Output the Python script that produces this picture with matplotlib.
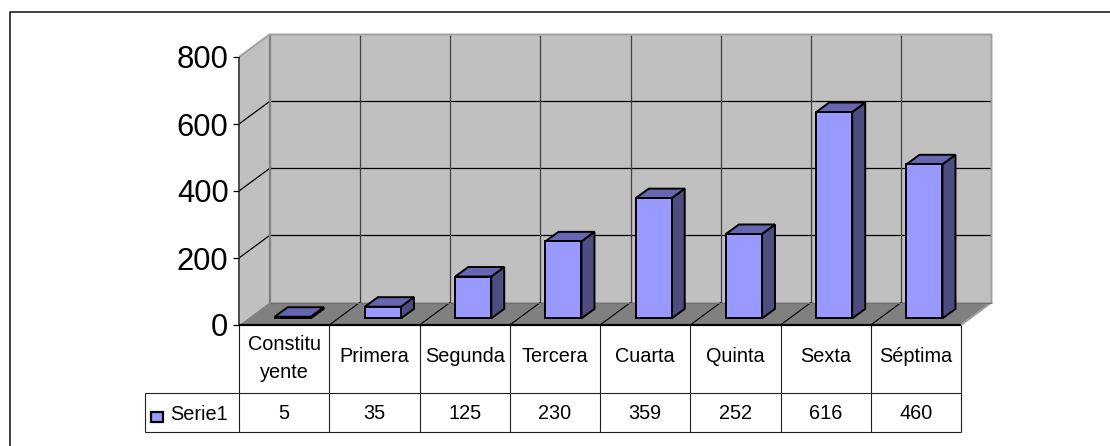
import matplotlib
matplotlib.use("Agg")
import matplotlib.pyplot as plt
from matplotlib.patches import Polygon
from matplotlib.lines import Line2D

plt.rcParams['font.family'] = ['Liberation Sans', 'DejaVu Sans']

categories = ["Constitu\nyente", "Primera", "Segunda", "Tercera", "Cuarta", "Quinta", "Sexta", "Séptima"]
values = [5, 35, 125, 230, 359, 252, 616, 460]
series_name = "Serie1"
y_ticks = [0, 200, 400, 600, 800]

W, H = 1110, 446
fig = plt.figure(figsize=(W / 100, H / 100), dpi=100, facecolor="white")
# Front plane of the 3D box, from pixel measurements
L, R, T, B = 239, 961, 57, 325
ax = fig.add_axes([L / W, 1 - B / H, (R - L) / W, (B - T) / H])
ax.set_xlim(0, len(categories))
ax.set_ylim(0, 800)
ax.axis("off")

PX = (R - L) / len(categories)     # pixels per category
PY = (B - T) / 800                 # pixels per value unit
DX, DY = 30.5 / PX, 22.5 / PY      # full depth of the box
BAR_W = 36 / PX
BDX, BDY = 13 / PX, 9.5 / PY       # depth of a bar
OFFX, OFFY = 8.6 / PX, 6.6 / PY    # bar front plane inside the box
n = len(categories)

def poly(pts, fc, ec="none", lw=0, z=1):
    ax.add_patch(Polygon(pts, closed=True, fc=fc, ec=ec, lw=lw, zorder=z,
                         clip_on=False, joinstyle="miter"))

def line(xs, ys, c="black", lw=0.75, z=2):
    ax.add_line(Line2D(xs, ys, color=c, lw=lw, zorder=z, clip_on=False,
                       solid_capstyle="butt"))

# walls and floor
poly([(DX, DY), (n + DX, DY), (n + DX, 800 + DY), (DX, 800 + DY)], "#C0C0C0")
poly([(0, 0), (DX, DY), (DX, 800 + DY), (0, 800)], "#C0C0C0")
poly([(0, 0), (n, 0), (n + DX, DY), (DX, DY)], "#808080")

# grid
for t in y_ticks[1:-1]:
    line([0, DX, n + DX], [t, t + DY, t + DY], "#000000", 0.9)
for i in range(1, n):
    line([i + DX, i + DX], [DY, 800 + DY], "#404040", 0.9)
for i in range(1, n):
    line([i, i + DX], [0, DY], "#000000", 0.8, z=2)

# wall borders
line([DX, DX], [DY, 800 + DY], "#808080", 1.6)
line([0, DX, n + DX, n + DX, n], [800, 800 + DY, 800 + DY, DY, 0], "#A0A0A0", 1.4)
line([DX, n + DX], [DY, DY], "#707070", 0.8)

# bars
FRONT, TOP, SIDE = "#9999FF", "#6666B3", "#4D4D80"
for i, v in enumerate(values):
    x0 = i + (1 - BAR_W) / 2 + OFFX
    x1 = x0 + BAR_W
    y0 = OFFY
    y1 = OFFY + v
    kw = dict(ec="black", lw=1.4, z=5)
    poly([(x1, y0), (x1 + BDX, y0 + BDY), (x1 + BDX, y1 + BDY), (x1, y1)], SIDE, **kw)
    poly([(x0, y1), (x1, y1), (x1 + BDX, y1 + BDY), (x0 + BDX, y1 + BDY)], TOP, **kw)
    poly([(x0, y0), (x1, y0), (x1, y1), (x0, y1)], FRONT, **kw)

# y axis
line([0, 0], [0, 800], "#404040", 1.3, z=6)
line([0, n], [0, 0], "black", 1.6, z=6)
for t in y_ticks:
    line([-6 / PX, 0], [t, t], "black", 0.9, z=6)
    ax.text(-10.5 / PX, t, str(t), ha="right", va="center_baseline", fontsize=22.3, color="black", zorder=7)

# data table
ROW1, ROW2 = -68 / PY, -106.5 / PY
LEG = -94 / PX
for i in range(n + 1):
    line([i, i], [ROW2, 0], "#202020", 0.8)
line([LEG, n], [ROW1, ROW1], "#202020", 0.8)
line([LEG, n], [ROW2, ROW2], "#202020", 0.8)
line([LEG, LEG], [ROW1, ROW2], "#202020", 0.8)
for i, (c, v) in enumerate(zip(categories, values)):
    shift = 0.5 if "\n" in c else 2.5
    ax.text(i + 0.5, ROW1 / 2 + shift / PY, c, ha="center", va="center", fontsize=14.3, linespacing=1.62, color="black")
    ax.text(i + 0.5, (ROW1 + ROW2) / 2 - 1 / PY, str(v), ha="center", va="center", fontsize=14.3, color="black")

# legend key
kx0, kx1 = LEG + 6 / PX, LEG + 18 / PX
ky0, ky1 = -97 / PY, -87 / PY
poly([(kx0, ky0), (kx1, ky0), (kx1, ky1), (kx0, ky1)], FRONT, ec="black", lw=1.6, z=5)
ax.text(LEG + 25.5 / PX, (ROW1 + ROW2) / 2 - 2.5 / PY, series_name, ha="left", va="center", fontsize=14.3, color="black")

# outer frame (open on the right and bottom)
fig.add_artist(Line2D([9.5 / W, 9.5 / W, 1], [0, 1 - 12 / H, 1 - 12 / H], color="#202020", lw=1.2,
                      transform=fig.transFigure, solid_capstyle="butt"))

fig.savefig("out.png", dpi=100, facecolor="white")
